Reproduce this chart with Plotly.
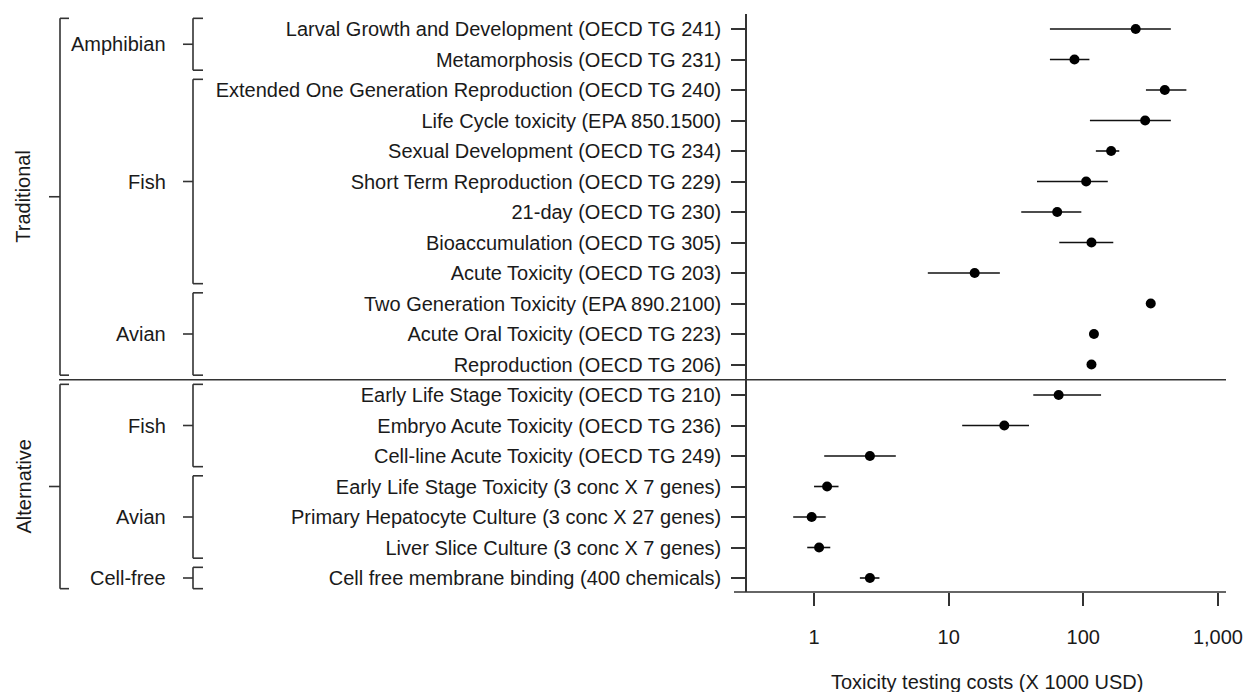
import plotly.graph_objects as go

# ---------------- data ----------------
tests = [
    "Larval Growth and Development (OECD TG 241)",
    "Metamorphosis (OECD TG 231)",
    "Extended One Generation Reproduction (OECD TG 240)",
    "Life Cycle toxicity (EPA 850.1500)",
    "Sexual Development (OECD TG 234)",
    "Short Term Reproduction (OECD TG 229)",
    "21-day (OECD TG 230)",
    "Bioaccumulation (OECD TG 305)",
    "Acute Toxicity (OECD TG 203)",
    "Two Generation Toxicity (EPA 890.2100)",
    "Acute Oral Toxicity (OECD TG 223)",
    "Reproduction (OECD TG 206)",
    "Early Life Stage Toxicity (OECD TG 210)",
    "Embryo Acute Toxicity (OECD TG 236)",
    "Cell-line Acute Toxicity (OECD TG 249)",
    "Early Life Stage Toxicity (3 conc X 7 genes)",
    "Primary Hepatocyte Culture (3 conc X 27 genes)",
    "Liver Slice Culture (3 conc X 7 genes)",
    "Cell free membrane binding (400 chemicals)",
]
cost = [245, 86, 403, 288, 161, 105, 64, 115, 15.6, 317, 120, 115,
        65.6, 25.9, 2.6, 1.25, 0.96, 1.09, 2.6]
cost_low = [56.5, 56.5, 292, 112, 124, 45.3, 34.6, 66.3, 7.0, 317, 120, 115,
            42.5, 12.6, 1.19, 1.0, 0.70, 0.89, 2.19]
cost_high = [447, 111, 583, 447, 185, 152, 96.7, 167, 24.0, 317, 120, 115,
             135.5, 39.5, 4.05, 1.52, 1.22, 1.32, 3.06]

taxa_groups = [("Amphibian", 1, 2), ("Fish", 3, 9), ("Avian", 10, 12),
               ("Fish", 13, 15), ("Avian", 16, 18), ("Cell-free", 19, 19)]
approach_groups = [("Traditional", 1, 12), ("Alternative", 13, 19)]

x_tickvals = [1, 10, 100, 1000]
x_ticktext = ["1", "10", "100", "1,000"]
x_title = "Toxicity testing costs (X 1000 USD)"

# ---------------- figure ----------------
# the page body margin is removed in post_script, so the figure fills the window
W, H = 1245, 692
ML, MT = 747, 14
MR = W - 1226
MB = H - 592
PW = W - ML - MR
PH = H - MT - MB


def px2paper(px):
    return (px - ML) / PW


def py2paper(py):
    return (H - MB - py) / PH


rows = list(range(1, len(tests) + 1))
err_plus = [h - c for h, c in zip(cost_high, cost)]
err_minus = [c - l for c, l in zip(cost, cost_low)]

FONT = "Liberation Sans, Arial, sans-serif"
TXT = "#1a1a1a"
LINE = "#333333"

fig = go.Figure()
fig.add_trace(go.Scatter(
    x=cost, y=rows, mode="markers",
    marker=dict(color="black", size=10, symbol="circle"),
    error_x=dict(type="data", symmetric=False, array=err_plus,
                 arrayminus=err_minus, width=0, thickness=1.6, color="#111"),
    showlegend=False, hoverinfo="x+y",
))

shapes = []
pad = 0.35


def bracket(vx, serif_x, tick_x, y0, y1, ym):
    s = []
    s.append(dict(type="line", xref="paper", yref="y", x0=vx, x1=vx, y0=y0, y1=y1))
    s.append(dict(type="line", xref="paper", yref="y", x0=vx, x1=serif_x, y0=y0, y1=y0))
    s.append(dict(type="line", xref="paper", yref="y", x0=vx, x1=serif_x, y0=y1, y1=y1))
    s.append(dict(type="line", xref="paper", yref="y", x0=tick_x, x1=vx, y0=ym, y1=ym))
    return s


annotations = []
for name, a, b in taxa_groups:
    ym = (a + b) / 2
    shapes += bracket(px2paper(193), px2paper(203), px2paper(183), a - pad, b + pad, ym)
    annotations.append(dict(text=name, x=px2paper(168), y=ym, xref="paper", yref="y",
                            xanchor="right", yanchor="middle", showarrow=False,
                            font=dict(size=20, family=FONT, color=TXT)))
for name, a, b in approach_groups:
    ym = (a + b) / 2
    shapes += bracket(px2paper(60), px2paper(69), px2paper(49), a - pad, b + pad, ym)
    annotations.append(dict(text=name, x=px2paper(23), y=ym, xref="paper", yref="y",
                            xanchor="center", yanchor="middle", textangle=-90,
                            showarrow=False, font=dict(size=20, family=FONT, color=TXT)))

for s in shapes:
    s["line"] = dict(color=LINE, width=1.6)

# divider between traditional and alternative
div_y = (approach_groups[0][2] + approach_groups[1][1]) / 2
shapes.append(dict(type="line", xref="paper", yref="y", x0=px2paper(59), x1=1,
                   y0=div_y, y1=div_y, line=dict(color=LINE, width=1.6)))
# bottom axis line extended to the left like the reference
shapes.append(dict(type="line", xref="paper", yref="paper", x0=px2paper(734), x1=1,
                   y0=0, y1=0, line=dict(color=LINE, width=1.6)))

annotations.append(dict(text=x_title, x=0.5, y=py2paper(669),
                        xref="paper", yref="paper", xanchor="center", yanchor="top",
                        showarrow=False, font=dict(size=20, family=FONT, color=TXT)))

row_top = 1 - 15 / 30.5
row_bot = len(tests) + 14 / 30.5

fig.update_layout(
    width=W, height=H,
    margin=dict(l=ML, r=MR, t=MT, b=MB, pad=0),
    paper_bgcolor="white", plot_bgcolor="white",
    font=dict(family=FONT, size=20, color=TXT),
    shapes=shapes, annotations=annotations,
    xaxis=dict(type="log", range=[-0.498, 3.06], tickvals=x_tickvals,
               ticktext=x_ticktext, ticks="outside", ticklen=13, tickwidth=1.6,
               tickcolor=LINE, showline=False, showgrid=False, zeroline=False,
               automargin=False,
               ticklabelstandoff=14, tickfont=dict(size=20, color=TXT)),
    yaxis=dict(range=[row_bot, row_top], tickvals=rows, ticktext=tests,
               ticks="outside", ticklen=14, tickwidth=1.6, tickcolor=LINE,
               showline=True, linecolor=LINE, linewidth=1.6, showgrid=False,
               zeroline=False, automargin=False,
               ticklabelstandoff=6, tickfont=dict(size=20, color=TXT)),
)

fig.write_html(
    "out.html",
    config={"displayModeBar": False},
    post_script="document.body.style.margin='0';document.body.style.overflow='hidden';",
)
